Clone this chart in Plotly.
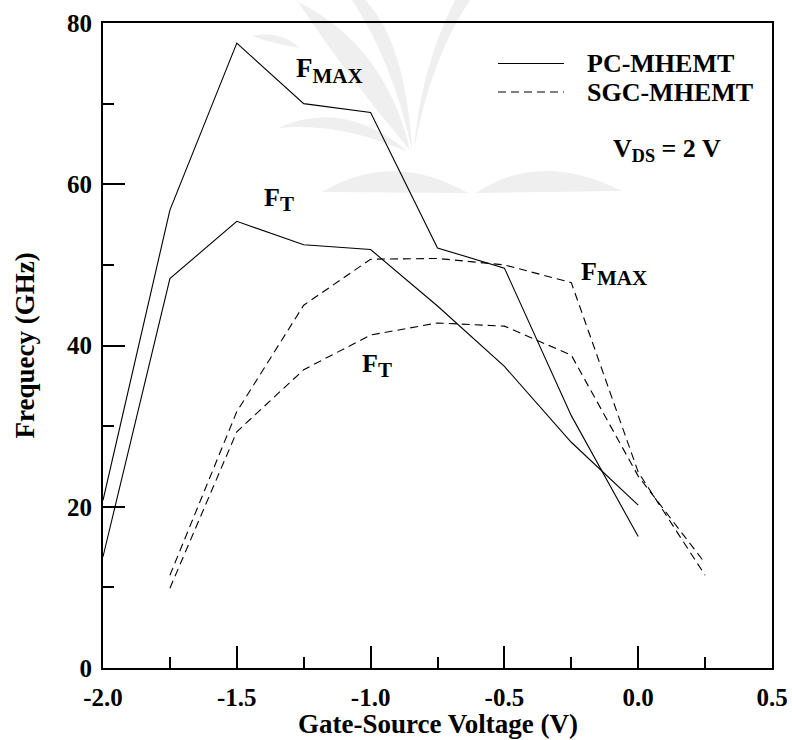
import plotly.graph_objects as go

# Gate-source bias points (V)
vgs_pc = [-2.0, -1.75, -1.5, -1.25, -1.0, -0.75, -0.5, -0.25, 0.0]
vgs_sgc = [-1.75, -1.5, -1.25, -1.0, -0.75, -0.5, -0.25, 0.0, 0.25]

# Frequencies (GHz)
pc_fmax = [20.8, 56.8, 77.5, 70.0, 68.9, 52.1, 49.6, 31.3, 16.3]
pc_ft = [13.8, 48.3, 55.4, 52.5, 51.9, 44.9, 37.4, 28.0, 20.2]
sgc_fmax = [11.5, 31.8, 45.0, 50.7, 50.8, 50.0, 47.8, 24.3, 11.5]
sgc_ft = [9.9, 29.3, 37.0, 41.3, 42.8, 42.4, 38.8, 23.8, 13.0]

x_ticks = [-2.0, -1.5, -1.0, -0.5, 0.0, 0.5]
x_tick_text = ["-2.0", "-1.5", "-1.0", "-0.5", "0.0", "0.5"]
y_ticks = [0, 20, 40, 60, 80]

FONT = "Liberation Serif"
solid = dict(color="black", width=1.1)
dashed = dict(color="black", width=1.1, dash="8px,5px")

fig = go.Figure()
fig.add_trace(go.Scatter(x=vgs_pc, y=pc_fmax, mode="lines", line=solid, name="PC-MHEMT F_MAX"))
fig.add_trace(go.Scatter(x=vgs_pc, y=pc_ft, mode="lines", line=solid, name="PC-MHEMT F_T"))
fig.add_trace(go.Scatter(x=vgs_sgc, y=sgc_fmax, mode="lines", line=dashed, name="SGC-MHEMT F_MAX"))
fig.add_trace(go.Scatter(x=vgs_sgc, y=sgc_ft, mode="lines", line=dashed, name="SGC-MHEMT F_T"))

L, R, T, B = 103, 20, 23, 72
W, H = 792, 740
pw, ph = W - L - R, H - T - B


def px(xp):
    return (xp - L) / pw


def py(yp):
    return (H - B - yp) / ph


def path(cmds):
    # cmds: list of (letter, [(x, y), ...]) in page pixels -> paper-space SVG path
    out = []
    for letter, pts in cmds:
        coords = " ".join(f"{px(a):.4f},{py(b):.4f}" for a, b in pts)
        out.append(f"{letter} {coords}".strip())
    return " ".join(out)


axis_common = dict(
    showline=True, linecolor="black", linewidth=2, mirror=True,
    showgrid=False, zeroline=False, ticks="inside", ticklen=22, tickwidth=2,
    tickcolor="black",
    tickfont=dict(family=FONT, size=25, color="black", weight="bold"),
)
fig.update_xaxes(
    range=[-2.0, 0.5], tickvals=x_ticks, ticktext=x_tick_text,
    minor=dict(dtick=0.25, tick0=-2.0, ticks="inside", ticklen=11, tickwidth=2, tickcolor="black"),
    ticklabelstandoff=6,
    **axis_common,
)
fig.update_yaxes(
    range=[0, 80], tickvals=y_ticks,
    minor=dict(dtick=10, tick0=0, ticks="inside", ticklen=11, tickwidth=2, tickcolor="black"),
    ticklabelstandoff=4,
    **axis_common,
)

ann_font = dict(family=FONT, size=26, color="black", weight="bold")
title_font = dict(family=FONT, size=27, color="black", weight="bold")
SUB = "<sub><span style='font-size:{}px'>{}</span></sub>"
annotations = [
    dict(text="Gate-Source Voltage (V)", x=0.5, y=py(724), xref="paper", yref="paper",
         showarrow=False, font=title_font, xanchor="center", yanchor="middle"),
    dict(text="Frequecy (GHz)", x=px(24), y=0.5, xref="paper", yref="paper", textangle=-90,
         showarrow=False, font=title_font, xanchor="center", yanchor="middle"),
    dict(text="PC-MHEMT", x=px(585), y=py(63), xref="paper", yref="paper",
         showarrow=False, font=ann_font, xanchor="left", yanchor="middle"),
    dict(text="SGC-MHEMT", x=px(585), y=py(92), xref="paper", yref="paper",
         showarrow=False, font=ann_font, xanchor="left", yanchor="middle"),
    dict(text="V<sub>DS</sub> = 2 V", x=px(611), y=py(150), xref="paper", yref="paper",
         showarrow=False, font=ann_font, xanchor="left", yanchor="middle"),
    dict(text="F" + SUB.format(21, "MAX"), x=px(294), y=py(70), xref="paper", yref="paper",
         showarrow=False, font=dict(family=FONT, size=27, color="black", weight="bold"),
         xanchor="left", yanchor="middle"),
    dict(text="F" + SUB.format(21, "T"), x=px(262), y=py(199), xref="paper", yref="paper",
         showarrow=False, font=ann_font, xanchor="left", yanchor="middle"),
    dict(text="F" + SUB.format(21, "MAX"), x=px(579), y=py(273), xref="paper", yref="paper",
         showarrow=False, font=ann_font, xanchor="left", yanchor="middle"),
    dict(text="F" + SUB.format(21, "T"), x=px(360), y=py(366), xref="paper", yref="paper",
         showarrow=False, font=ann_font, xanchor="left", yanchor="middle"),
]

# faint emblem behind the plot: leaves and an open book
mark_fill = "#efefef"
emblem = [
    # diagonal blade
    path([("M", [(298, 2)]), ("Q", [(385, 45), (410, 150)]), ("Q", [(350, 80), (298, 2)]), ("Z", [])]),
    # upright blade
    path([("M", [(365, 0)]), ("Q", [(405, 40), (412, 150)]), ("Q", [(392, 60), (352, 0)]), ("Z", [])]),
    # right blade
    path([("M", [(470, 0)]), ("Q", [(430, 60), (414, 150)]), ("Q", [(420, 70), (455, 0)]), ("Z", [])]),
    # horizontal leaf
    path([("M", [(278, 128)]), ("Q", [(345, 98), (408, 152)]), ("Q", [(340, 122), (278, 128)]), ("Z", [])]),
    # small leaf upper left
    path([("M", [(252, 36)]), ("Q", [(280, 30), (300, 48)]), ("Q", [(275, 44), (252, 36)]), ("Z", [])]),
    # left page
    path([("M", [(322, 192)]), ("Q", [(392, 150), (468, 193)]), ("Z", [])]),
    # right page
    path([("M", [(476, 193)]), ("Q", [(540, 150), (622, 191)]), ("Z", [])]),
    # page edge band
    path([("M", [(320, 197)]), ("L", [(623, 197), (623, 211), (478, 211), (472, 215), (466, 211), (320, 211)]), ("Z", [])]),
]
shapes = [
    dict(type="path", xref="paper", yref="paper", path=p, fillcolor=mark_fill,
         line=dict(width=0), layer="below")
    for p in emblem
]
shapes += [
    dict(type="line", xref="paper", yref="paper", x0=px(498), x1=px(564), y0=py(63.5), y1=py(63.5),
         line=dict(color="black", width=1.1)),
    dict(type="line", xref="paper", yref="paper", x0=px(498), x1=px(564), y0=py(92), y1=py(92),
         line=dict(color="black", width=1.1, dash="8px,5px")),
]

fig.update_layout(
    width=W, height=H,
    margin=dict(l=L, r=R, t=T, b=B, autoexpand=False),
    paper_bgcolor="white", plot_bgcolor="rgba(0,0,0,0)",
    showlegend=False,
    annotations=annotations, shapes=shapes,
    font=dict(family=FONT, color="black"),
)
fig.update_xaxes(automargin=False)
fig.update_yaxes(automargin=False)

fig.write_html("out.html")
